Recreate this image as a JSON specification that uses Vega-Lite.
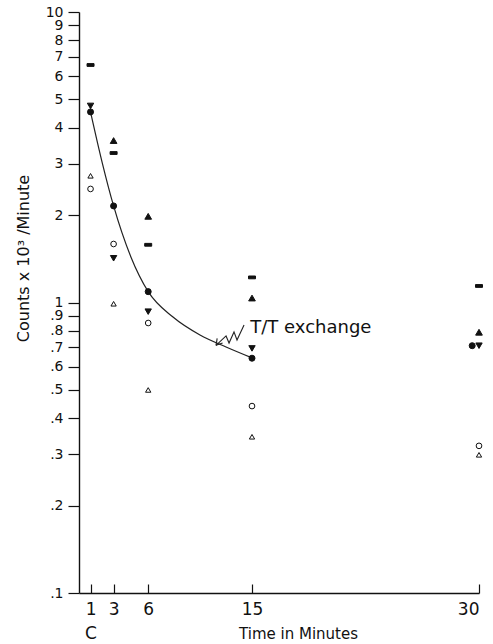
{
  "$schema": "https://vega.github.io/schema/vega-lite/v6.json",
  "autosize": "none",
  "width": 400,
  "height": 581,
  "padding": {"left": 79, "top": 12, "right": 14, "bottom": 51},
  "background": "white",
  "config": {
    "view": {"stroke": null},
    "axis": {
      "domainColor": "#111", "domainWidth": 1.4, "tickColor": "#111", "tickWidth": 1.2,
      "labelColor": "#111", "titleColor": "#111", "labelFont": "DejaVu Sans", "titleFont": "DejaVu Sans",
      "titleFontWeight": "normal", "grid": false, "labelOverlap": false
    }
  },
  "datasets": {
    "pts": [
      {"t": 1, "v": 6.57, "s": "bar"},
      {"t": 1, "v": 4.75, "s": "down"},
      {"t": 1, "v": 4.53, "s": "dot"},
      {"t": 1, "v": 2.73, "s": "tri"},
      {"t": 1, "v": 2.46, "s": "ring"},
      {"t": 3, "v": 3.61, "s": "up"},
      {"t": 3, "v": 3.27, "s": "bar"},
      {"t": 3, "v": 2.15, "s": "dot"},
      {"t": 3, "v": 1.59, "s": "ring"},
      {"t": 3, "v": 1.42, "s": "down"},
      {"t": 3, "v": 0.99, "s": "tri"},
      {"t": 6, "v": 1.98, "s": "up"},
      {"t": 6, "v": 1.58, "s": "bar"},
      {"t": 6, "v": 1.09, "s": "dot"},
      {"t": 6, "v": 0.93, "s": "down"},
      {"t": 6, "v": 0.85, "s": "ring"},
      {"t": 6, "v": 0.5, "s": "tri"},
      {"t": 15, "v": 1.22, "s": "bar"},
      {"t": 15, "v": 1.036, "s": "up"},
      {"t": 15, "v": 0.695, "s": "down"},
      {"t": 15, "v": 0.643, "s": "dot"},
      {"t": 15, "v": 0.44, "s": "ring"},
      {"t": 15, "v": 0.345, "s": "tri"},
      {"t": 30, "v": 1.14, "s": "bar"},
      {"t": 30, "v": 0.79, "s": "up"},
      {"t": 30, "v": 0.71, "s": "down"},
      {"t": 29.55, "v": 0.71, "s": "dot"},
      {"t": 30, "v": 0.321, "s": "ring"},
      {"t": 30, "v": 0.299, "s": "tri"}
    ],
    "curve": [
      {"t": 1, "v": 4.53},
      {"t": 2, "v": 3.045},
      {"t": 3, "v": 2.15},
      {"t": 4.5, "v": 1.435},
      {"t": 6, "v": 1.09},
      {"t": 8.15, "v": 0.891},
      {"t": 10.49, "v": 0.773},
      {"t": 12.75, "v": 0.703},
      {"t": 15, "v": 0.645}
    ],
    "arrow": [
      {"g": "s", "i": 0, "t": 14.31, "v": 0.837},
      {"g": "s", "i": 1, "t": 13.7, "v": 0.743},
      {"g": "s", "i": 2, "t": 13.44, "v": 0.792},
      {"g": "s", "i": 3, "t": 13.01, "v": 0.725},
      {"g": "s", "i": 4, "t": 12.75, "v": 0.767},
      {"g": "s", "i": 5, "t": 11.88, "v": 0.712},
      {"g": "b1", "i": 0, "t": 11.88, "v": 0.712},
      {"g": "b1", "i": 1, "t": 12.45, "v": 0.726},
      {"g": "b2", "i": 0, "t": 11.88, "v": 0.712},
      {"g": "b2", "i": 1, "t": 11.98, "v": 0.752}
    ],
    "note": [{"t": 14.85, "v": 0.817, "label": "T/T exchange"}]
  },
  "encoding": {
    "x": {
      "field": "t", "type": "quantitative",
      "scale": {"domain": [0, 15, 30], "range": [0, 173, 400], "nice": false, "zero": false},
      "axis": {
        "values": [1, 3, 6, 15, 30],
        "tickSize": -9,
        "labelPadding": 17,
        "labelFontSize": 17,
        "labelExpr": "datum.value == 1 ? ['1', 'C'] : datum.label",
        "labelLineHeight": 24,
        "labelBaseline": "top",
        "title": "Time in Minutes",
        "titleFontSize": 15,
        "titleX": 219,
        "titleY": 40,
        "titleAlign": "center",
        "titleBaseline": "middle",
        "titleAnchor": null
      }
    },
    "y": {
      "field": "v", "type": "quantitative",
      "scale": {"type": "log", "domain": [0.1, 10], "nice": false},
      "axis": {
        "values": [0.1, 0.2, 0.3, 0.4, 0.5, 0.6, 0.7, 0.8, 0.9, 1, 2, 3, 4, 5, 6, 7, 8, 9, 10],
        "tickSize": 11,
        "labelPadding": 5,
        "labelFontSize": 14,
        "labelExpr": "datum.value < 0.95 ? replace(format(datum.value, '.1f'), '0.', '.') : format(datum.value, 'd')",
        "title": "Counts x 10³ /Minute",
        "titleFontSize": 16,
        "titleX": -56,
        "titleY": 246,
        "titleAngle": -90,
        "titleAlign": "center",
        "titleBaseline": "middle"
      }
    }
  },
  "layer": [
    {
      "data": {"name": "curve"},
      "mark": {"type": "line", "interpolate": "monotone", "color": "#222", "strokeWidth": 1.2}
    },
    {
      "data": {"name": "arrow"},
      "mark": {"type": "line", "color": "#222", "strokeWidth": 1.1},
      "encoding": {
        "detail": {"field": "g", "type": "nominal"},
        "order": {"field": "i", "type": "quantitative"}
      }
    },
    {
      "data": {"name": "pts"},
      "mark": {"type": "point", "filled": true, "stroke": "#111", "strokeWidth": 1, "opacity": 1},
      "encoding": {
        "shape": {"field": "s", "type": "nominal", "legend": null,
          "scale": {"domain": ["bar", "up", "down", "dot", "ring", "tri"],
                    "range": ["M-1,-0.4H1V0.4H-1Z", "triangle-up", "triangle-down", "circle", "circle", "triangle-up"]}},
        "fill": {"field": "s", "type": "nominal", "legend": null,
          "scale": {"domain": ["bar", "up", "down", "dot", "ring", "tri"],
                    "range": ["#111", "#111", "#111", "#111", "white", "white"]}},
        "size": {"field": "s", "type": "nominal", "legend": null,
          "scale": {"domain": ["bar", "up", "down", "dot", "ring", "tri"],
                    "range": [49, 28, 28, 14, 16, 22]}}
      }
    },
    {
      "data": {"name": "note"},
      "mark": {"type": "text", "align": "left", "baseline": "middle", "font": "DejaVu Sans", "fontSize": 18, "color": "#111"},
      "encoding": {"text": {"field": "label", "type": "nominal"}}
    }
  ]
}
